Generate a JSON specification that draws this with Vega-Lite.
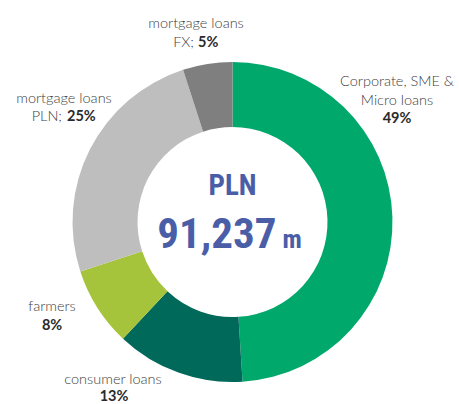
{
  "$schema": "https://vega.github.io/schema/vega-lite/v6.json",
  "autosize": "none",
  "padding": {"left": 6, "top": 40, "right": 0, "bottom": 0},
  "width": 453,
  "height": 364,
  "background": "white",
  "config": {"view": {"stroke": null}},
  "data": {
    "values": [
      {"key": "corp", "category": "Corporate, SME & Micro loans", "value": 49, "order": 1, "line1": "Corporate, SME &", "line2": "Micro loans", "pct": "49%"},
      {"key": "consumer", "category": "consumer loans", "value": 13, "order": 2, "line1": "consumer loans", "pct": "13%"},
      {"key": "farmers", "category": "farmers", "value": 8, "order": 3, "line1": "farmers", "pct": "8%"},
      {"key": "mpln", "category": "mortgage loans PLN", "value": 25, "order": 4, "line1": "mortgage loans", "line2": "PLN;", "pct": "25%"},
      {"key": "mfx", "category": "mortgage loans FX", "value": 5, "order": 5, "line1": "mortgage loans", "line2": "FX;", "pct": "5%"}
    ]
  },
  "layer": [
    {
      "mark": {"type": "arc", "radius": 160, "radius2": 95},
      "encoding": {
        "theta": {"field": "value", "type": "quantitative", "stack": true},
        "order": {"field": "order", "type": "quantitative"},
        "color": {
          "field": "category", "type": "nominal", "legend": null,
          "scale": {
            "domain": ["Corporate, SME & Micro loans", "consumer loans", "farmers", "mortgage loans PLN", "mortgage loans FX"],
            "range": ["#00a86c", "#00695a", "#a6c43b", "#bebebe", "#7f7f7f"]
          }
        }
      }
    },
    {
      "mark": {"type": "text", "radius": 200, "dx": -35.4, "dy": -129.7, "font": "Lato", "fontSize": 14.5, "fontWeight": 300, "color": "#404040", "align": "center", "baseline": "alphabetic"},
      "encoding": {"theta": {"field": "value", "type": "quantitative", "stack": true}, "order": {"field": "order", "type": "quantitative"},
        "text": {"condition": {"test": "datum.key === 'corp'", "field": "line1", "type": "nominal"}, "value": ""}}
    },
    {
      "mark": {"type": "text", "radius": 200, "dx": -35.4, "dy": -110.7, "font": "Lato", "fontSize": 14.5, "fontWeight": 300, "color": "#404040", "align": "center", "baseline": "alphabetic"},
      "encoding": {"theta": {"field": "value", "type": "quantitative", "stack": true}, "order": {"field": "order", "type": "quantitative"},
        "text": {"condition": {"test": "datum.key === 'corp'", "field": "line2", "type": "nominal"}, "value": ""}}
    },
    {
      "mark": {"type": "text", "radius": 200, "dx": -35.4, "dy": -92.7, "font": "Lato", "fontSize": 14.5, "fontWeight": 700, "color": "#2a2a2a", "align": "center", "baseline": "alphabetic"},
      "encoding": {"theta": {"field": "value", "type": "quantitative", "stack": true}, "order": {"field": "order", "type": "quantitative"},
        "text": {"condition": {"test": "datum.key === 'corp'", "field": "pct", "type": "nominal"}, "value": ""}}
    },
    {
      "mark": {"type": "text", "radius": 200, "dx": -51.75, "dy": -26.2, "font": "Lato", "fontSize": 14.5, "fontWeight": 300, "color": "#404040", "align": "center", "baseline": "alphabetic"},
      "encoding": {"theta": {"field": "value", "type": "quantitative", "stack": true}, "order": {"field": "order", "type": "quantitative"},
        "text": {"condition": {"test": "datum.key === 'consumer'", "field": "line1", "type": "nominal"}, "value": ""}}
    },
    {
      "mark": {"type": "text", "radius": 200, "dx": -50.75, "dy": -9.4, "font": "Lato", "fontSize": 14.5, "fontWeight": 700, "color": "#2a2a2a", "align": "center", "baseline": "alphabetic"},
      "encoding": {"theta": {"field": "value", "type": "quantitative", "stack": true}, "order": {"field": "order", "type": "quantitative"},
        "text": {"condition": {"test": "datum.key === 'consumer'", "field": "pct", "type": "nominal"}, "value": ""}}
    },
    {
      "mark": {"type": "text", "radius": 200, "dx": -11.6, "dy": -18.2, "font": "Lato", "fontSize": 14.5, "fontWeight": 300, "color": "#404040", "align": "center", "baseline": "alphabetic"},
      "encoding": {"theta": {"field": "value", "type": "quantitative", "stack": true}, "order": {"field": "order", "type": "quantitative"},
        "text": {"condition": {"test": "datum.key === 'farmers'", "field": "line1", "type": "nominal"}, "value": ""}}
    },
    {
      "mark": {"type": "text", "radius": 200, "dx": -11.6, "dy": 0.8, "font": "Lato", "fontSize": 14.5, "fontWeight": 700, "color": "#2a2a2a", "align": "center", "baseline": "alphabetic"},
      "encoding": {"theta": {"field": "value", "type": "quantitative", "stack": true}, "order": {"field": "order", "type": "quantitative"},
        "text": {"condition": {"test": "datum.key === 'farmers'", "field": "pct", "type": "nominal"}, "value": ""}}
    },
    {
      "mark": {"type": "text", "radius": 200, "dx": 9.7, "dy": -28.2, "font": "Lato", "fontSize": 14.5, "fontWeight": 300, "color": "#404040", "align": "center", "baseline": "alphabetic"},
      "encoding": {"theta": {"field": "value", "type": "quantitative", "stack": true}, "order": {"field": "order", "type": "quantitative"},
        "text": {"condition": {"test": "datum.key === 'mpln'", "field": "line1", "type": "nominal"}, "value": ""}}
    },
    {
      "mark": {"type": "text", "radius": 200, "dx": 7.7, "dy": -10.2, "font": "Lato", "fontSize": 14.5, "fontWeight": 300, "color": "#404040", "align": "right", "baseline": "alphabetic"},
      "encoding": {"theta": {"field": "value", "type": "quantitative", "stack": true}, "order": {"field": "order", "type": "quantitative"},
        "text": {"condition": {"test": "datum.key === 'mpln'", "field": "line2", "type": "nominal"}, "value": ""}}
    },
    {
      "mark": {"type": "text", "radius": 200, "dx": 12.7, "dy": -10.2, "font": "Lato", "fontSize": 14.5, "fontWeight": 700, "color": "#2a2a2a", "align": "left", "baseline": "alphabetic"},
      "encoding": {"theta": {"field": "value", "type": "quantitative", "stack": true}, "order": {"field": "order", "type": "quantitative"},
        "text": {"condition": {"test": "datum.key === 'mpln'", "field": "pct", "type": "nominal"}, "value": ""}}
    },
    {
      "mark": {"type": "text", "radius": 200, "dx": -5.2, "dy": 3.5, "font": "Lato", "fontSize": 14.5, "fontWeight": 300, "color": "#404040", "align": "center", "baseline": "alphabetic"},
      "encoding": {"theta": {"field": "value", "type": "quantitative", "stack": true}, "order": {"field": "order", "type": "quantitative"},
        "text": {"condition": {"test": "datum.key === 'mfx'", "field": "line1", "type": "nominal"}, "value": ""}}
    },
    {
      "mark": {"type": "text", "radius": 200, "dx": -7.2, "dy": 22.5, "font": "Lato", "fontSize": 14.5, "fontWeight": 300, "color": "#404040", "align": "right", "baseline": "alphabetic"},
      "encoding": {"theta": {"field": "value", "type": "quantitative", "stack": true}, "order": {"field": "order", "type": "quantitative"},
        "text": {"condition": {"test": "datum.key === 'mfx'", "field": "line2", "type": "nominal"}, "value": ""}}
    },
    {
      "mark": {"type": "text", "radius": 200, "dx": -3.2, "dy": 22.5, "font": "Lato", "fontSize": 14.5, "fontWeight": 700, "color": "#2a2a2a", "align": "left", "baseline": "alphabetic"},
      "encoding": {"theta": {"field": "value", "type": "quantitative", "stack": true}, "order": {"field": "order", "type": "quantitative"},
        "text": {"condition": {"test": "datum.key === 'mfx'", "field": "pct", "type": "nominal"}, "value": ""}}
    },
    {
      "data": {"values": [{"currency": "PLN", "total": "91,237", "unit": "m"}]},
      "mark": {"type": "text", "dy": -27, "font": "Roboto Condensed, Liberation Sans Narrow, DejaVu Sans Condensed, sans-serif", "fontSize": 29, "fontWeight": "bold", "color": "#4a5ea8", "align": "center", "baseline": "alphabetic"},
      "encoding": {"text": {"field": "currency", "type": "nominal"}}
    },
    {
      "data": {"values": [{"currency": "PLN", "total": "91,237", "unit": "m"}]},
      "mark": {"type": "text", "dx": 44, "dy": 26, "font": "Roboto Condensed, Liberation Sans Narrow, DejaVu Sans Condensed, sans-serif", "fontSize": 43, "fontWeight": "bold", "color": "#4a5ea8", "align": "right", "baseline": "alphabetic"},
      "encoding": {"text": {"field": "total", "type": "nominal"}}
    },
    {
      "data": {"values": [{"currency": "PLN", "total": "91,237", "unit": "m"}]},
      "mark": {"type": "text", "dx": 50, "dy": 26, "font": "Roboto Condensed, Liberation Sans Narrow, DejaVu Sans Condensed, sans-serif", "fontSize": 26, "fontWeight": "bold", "color": "#4a5ea8", "align": "left", "baseline": "alphabetic"},
      "encoding": {"text": {"field": "unit", "type": "nominal"}}
    }
  ]
}
